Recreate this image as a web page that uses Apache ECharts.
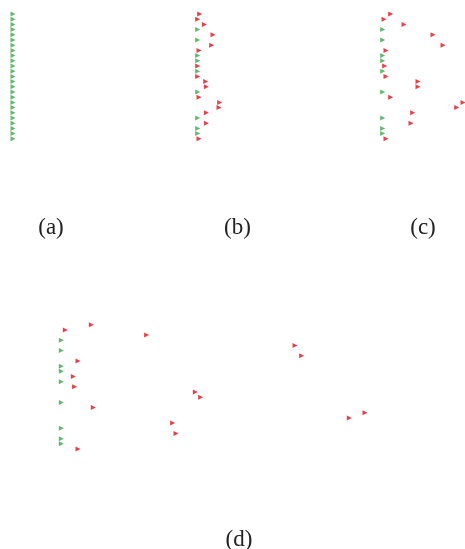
<!DOCTYPE html>
<html>
<head>
<meta charset="utf-8">
<script src="https://cdn.jsdelivr.net/npm/echarts@6/dist/echarts.min.js"></script>
<style>html,body{margin:0;padding:0;background:#fff}#c{width:465px;height:549px}</style>
</head>
<body>
<div id="c"></div>
<script>
// Row indices (0 = top) of the 25 particles
const greenRows = [3, 5, 8, 9, 11, 15, 20, 22, 23];
const redRows = [0, 1, 2, 4, 6, 7, 10, 12, 13, 14, 16, 17, 18, 19, 21, 24];
const allRows = Array.from({length: 25}, (_, i) => i);
// Horizontal displacement of red markers in each panel
const redB = [2, 0, 6.7, 15.3, 14, 1.3, 0, 0, 8, 8.7, 1.3, 22, 21.3, 8.7, 8.7, 1.3];
const redC = [8, 1.3, 21.3, 50.3, 60.3, 3.3, 2, 3.3, 35.3, 35.3, 8, 80.3, 74, 30, 28.3, 3.3];
const redD = [30, 4, 85.3, 233.7, 240.3, 16.7, 12, 13.3, 134, 139.3, 32, 303.7, 288, 111.3, 114.7, 16.7];
const captions = ['(a)', '(b)', '(c)', '(d)'];

const GREEN = '#38a84c', RED = '#e0101a';
const grids = [
  {left: 13, top: 14, width: 80, height: 124.8},
  {left: 197.7, top: 14, width: 80, height: 124.8},
  {left: 382.7, top: 14, width: 82, height: 124.8},
  {left: 61.3, top: 324.7, width: 400, height: 124.3}
];
const xMax = [80, 80, 82, 400];
const capPos = [[51, 228], [237.5, 228], [423, 228], [239, 540]];

const series = [];
function sc(gi, data, color) {
  series.push({
    type: 'scatter', xAxisIndex: gi, yAxisIndex: gi, data: data, clip: false,
    symbol: 'triangle', symbolRotate: -90, symbolSize: 5,
    itemStyle: {color: color}, silent: true, animation: false
  });
}
// panel (a): all at rest
sc(0, allRows.map(r => [0, r]), GREEN);
[redB, redC, redD].forEach((vals, k) => {
  const gi = k + 1;
  sc(gi, greenRows.map(r => [0, r]), GREEN);
  sc(gi, redRows.map((r, i) => [vals[i], r]), RED);
});

const option = {
  backgroundColor: '#fff',
  animation: false,
  grid: grids.map(g => Object.assign({containLabel: false}, g)),
  xAxis: grids.map((g, i) => ({type: 'value', gridIndex: i, min: 0, max: xMax[i], show: false})),
  yAxis: grids.map((g, i) => ({type: 'value', gridIndex: i, min: 0, max: 24, inverse: true, show: false})),
  series: series,
  graphic: captions.map((t, i) => ({
    type: 'text', x: capPos[i][0], y: capPos[i][1],
    style: {text: t, fontFamily: 'Liberation Serif', fontSize: 23, fill: '#222', align: 'center', verticalAlign: 'middle'}
  }))
};
const chart = echarts.init(document.getElementById('c'), null, {renderer: 'canvas'});
chart.setOption(option);
</script>
</body>
</html>
